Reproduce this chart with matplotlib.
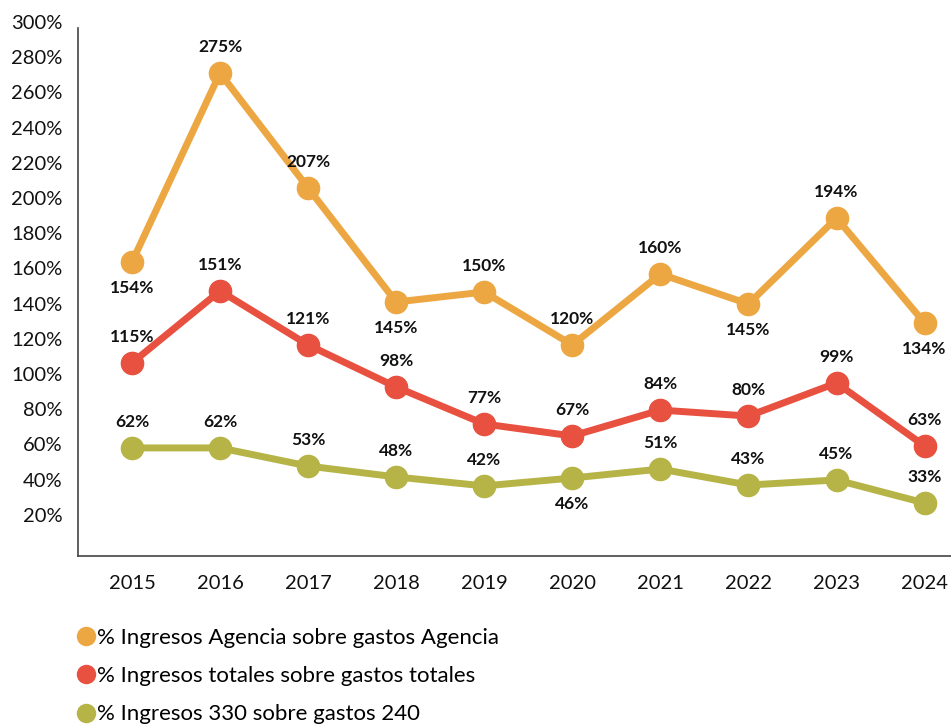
import matplotlib.pyplot as plt
from matplotlib.lines import Line2D

plt.rcParams['font.family'] = ['Lato', 'DejaVu Sans']

# data
years = [2015, 2016, 2017, 2018, 2019, 2020, 2021, 2022, 2023, 2024]
agencia = [163.6, 271.0, 205.7, 140.9, 146.6, 116.5, 156.8, 139.8, 188.6, 129.0]
totales = [106.3, 147.2, 116.5, 92.6, 71.6, 64.8, 79.5, 76.1, 94.9, 59.1]
ing330 = [58.0, 58.0, 47.7, 41.5, 36.4, 40.9, 46.0, 36.9, 39.8, 26.7]

agencia_lbl = ['154%', '275%', '207%', '145%', '150%', '120%', '160%', '145%', '194%', '134%']
totales_lbl = ['115%', '151%', '121%', '98%', '77%', '67%', '84%', '80%', '99%', '63%']
ing330_lbl = ['62%', '62%', '53%', '48%', '42%', '46%', '51%', '43%', '45%', '33%']

# which labels sit under the point
agencia_below = [True, False, False, True, False, False, False, True, False, True]
totales_below = [False] * 10
ing330_below = [False, False, False, False, False, True, False, False, False, False]

names = ['% Ingresos Agencia sobre gastos Agencia',
         '% Ingresos totales sobre gastos totales',
         '% Ingresos 330 sobre gastos 240']
colors = ['#EDA742', '#E8503F', '#B6B446']

fig = plt.figure(figsize=(9.51, 7.26), dpi=100)
ax = fig.add_axes([0.082, 0.2342, 0.918, 0.7355])

series = [(agencia, agencia_lbl, agencia_below),
          (totales, totales_lbl, totales_below),
          (ing330, ing330_lbl, ing330_below)]

for (vals, lbls, below), c in zip(series, colors):
    ax.plot(years, vals, color=c, lw=5, marker='o', ms=16, zorder=3,
            solid_capstyle='round')
    for x, v, t, b in zip(years, vals, lbls, below):
        off = -19 if b else 19
        ax.annotate(t, (x, v), xytext=(0, off), textcoords='offset points',
                    ha='center', va='center', fontsize=12.5,
                    fontweight='bold', color='#111111')

ax.set_xticks(years)
ax.set_yticks(range(20, 301, 20))
ax.set_yticklabels([f'{v}%' for v in range(20, 301, 20)])
ax.set_xlim(2014.387, 2024.30)
ax.set_ylim(-3.4, 300)
ax.tick_params(length=0, labelsize=14.5, colors='#111111')
ax.tick_params(axis='y', pad=11)
ax.tick_params(axis='x', pad=14)

for s in ['top', 'right']:
    ax.spines[s].set_visible(False)
for s in ['left', 'bottom']:
    ax.spines[s].set_color('#444444')
    ax.spines[s].set_linewidth(1.2)
ax.spines['left'].set_bounds(-3.4, 296.6)

handles = [Line2D([], [], ls='none', marker='o', ms=13, color=c) for c in colors]
fig.legend(handles, names, loc='upper left', bbox_to_anchor=(0.081, 0.135),
           frameon=False, fontsize=16, handletextpad=0.1, labelspacing=0.82,
           handlelength=0.8, borderaxespad=0, borderpad=0)

fig.savefig('out.png', dpi=100)
